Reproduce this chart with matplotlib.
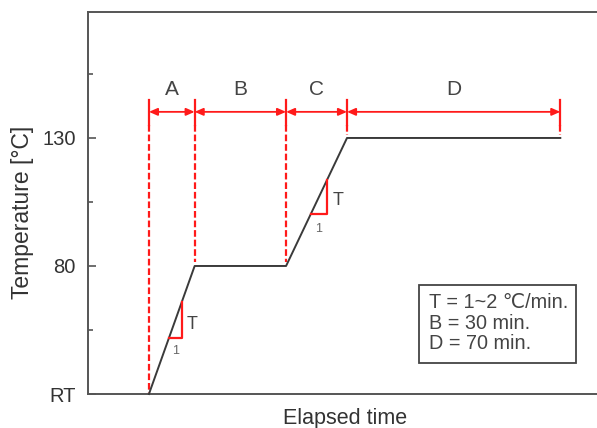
import matplotlib
matplotlib.use("Agg")
import matplotlib.pyplot as plt
from matplotlib.patches import Rectangle

plt.rcParams['font.family'] = ['Liberation Sans', 'DejaVu Sans']

# Profile data (time in min, temperature with RT drawn at 30)
profile_t = [20, 35, 65, 85, 155]
profile_T = [30, 80, 80, 130, 130]
segment_names = ["A", "B", "C", "D"]
segment_bounds = [20, 35, 65, 85, 155]
ytick_vals = [30, 80, 130]
ytick_labels = ["RT", "80", "130"]
yminor_vals = [55, 105, 155]
legend_text = "T = 1~2 \u2103/min.\nB = 30 min.\nD = 70 min."

RED = "#ff1a1a"
DARK = "#3a3a3a"
TXT = "#333333"

fig = plt.figure(figsize=(5.97, 4.28), dpi=100)
ax = fig.add_axes([88/597, 34/428, 1 - 88/597 + 0.01, 382/428])
ax.set_xlim(0, 169)
ax.set_ylim(30, 179.2)

for s in ["left", "bottom", "top"]:
    ax.spines[s].set_color("#555555")
    ax.spines[s].set_linewidth(1.4)
ax.spines["right"].set_visible(False)

ax.set_yticks(ytick_vals)
ax.set_yticklabels(ytick_labels)
ax.set_yticks(yminor_vals, minor=True)
ax.tick_params(axis="y", which="major", direction="in", length=6, width=1.2,
               color="#555555", labelsize=14.5, labelcolor=TXT, pad=9)
ax.tick_params(axis="y", which="minor", direction="in", length=3.5, width=1.2,
               color="#555555")
ax.set_xticks([])

ax.set_ylabel("Temperature [\u00b0C]", fontsize=16.5, color=TXT)
ax.yaxis.set_label_coords(-0.105, 0.476)
ax.set_xlabel("Elapsed time", fontsize=15.5, color=TXT, labelpad=10)

# profile line
ax.plot(profile_t, profile_T, color=DARK, lw=1.4, zorder=3, clip_on=False)

# vertical markers
arrow_y = 140.2
top_y = 144.8
solid_bottom = 135.0
dash_ends = [30, 81.5, 81.5, 131, 131]
for x, ye in zip(segment_bounds, dash_ends):
    ax.plot([x, x], [top_y, solid_bottom], color=RED, lw=1.6, zorder=4)
    ax.plot([x, x], [solid_bottom, ye], color=RED, lw=1.6, ls=(0, (3, 1.3)), zorder=2)

# arrows
for i, name in enumerate(segment_names):
    x0, x1 = segment_bounds[i], segment_bounds[i + 1]
    ax.annotate("", xy=(x1, arrow_y), xytext=(x0, arrow_y),
                arrowprops=dict(arrowstyle="<|-|>,head_length=0.5,head_width=0.22",
                                color=RED, lw=1.3, shrinkA=0, shrinkB=0))
    ax.text((x0 + x1) / 2, 148.9, name, ha="center", va="center",
            fontsize=15, color="#444444")

# slope triangles
tri1_x = [26.6, 30.8, 30.8]
tri1_y = [52.0, 52.0, 66.0]
ax.plot(tri1_x, tri1_y, color=RED, lw=1.6, zorder=4)
ax.text(34.0, 57.0, "T", fontsize=13, color="#444444", ha="center", va="center")
ax.text(28.6, 46.8, "1", fontsize=9, color="#666666", ha="center", va="center")

tri2_x = [73.1, 78.4, 78.4]
tri2_y = [100.3, 100.3, 113.5]
ax.plot(tri2_x, tri2_y, color=RED, lw=1.6, zorder=4)
ax.text(82.0, 105.5, "T", fontsize=13, color="#444444", ha="center", va="center")
ax.text(75.7, 94.3, "1", fontsize=9, color="#666666", ha="center", va="center")

# info box
ax.add_patch(Rectangle((108.5, 42.1), 51.5, 30.5, fill=False,
                       edgecolor="#444444", lw=1.3, zorder=5))
ax.text(111.8, 57.6, legend_text, fontsize=14.3, color="#444444",
        ha="left", va="center", linespacing=1.1, zorder=6)

fig.savefig("out.png", dpi=100)
